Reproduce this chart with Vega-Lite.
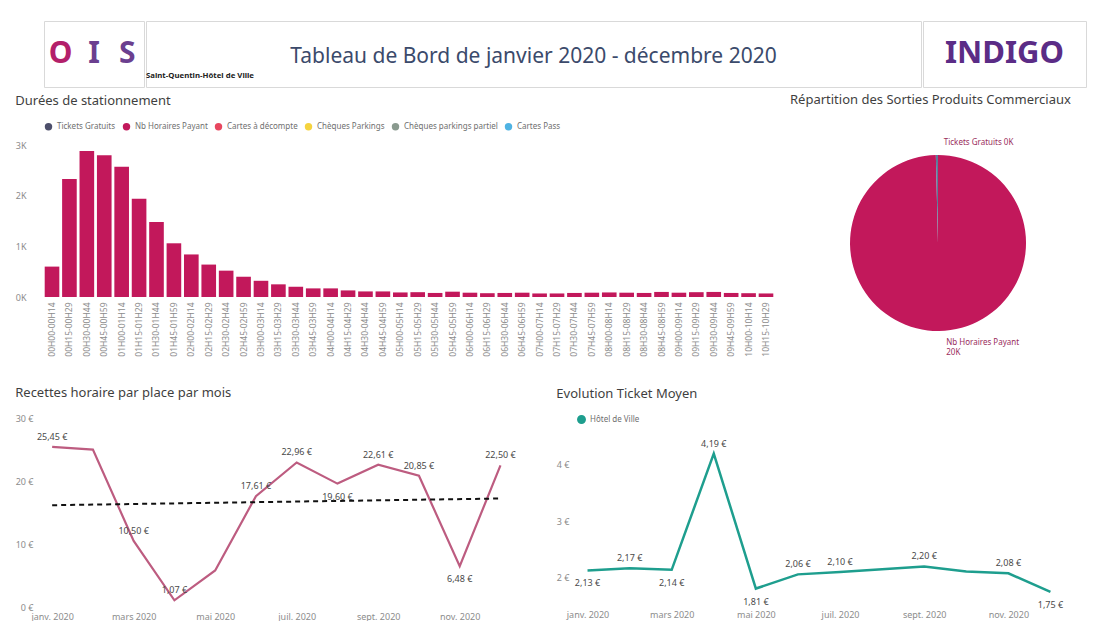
{
  "$schema": "https://vega.github.io/schema/vega-lite/v6.json",
  "background": "white",
  "padding": {"left": 15, "top": 20, "right": 4, "bottom": 0},
  "config": {
    "font": "Noto Sans",
    "view": {"stroke": null},
    "axis": {"labelColor": "#8c8c8c", "labelFontSize": 9, "domain": false, "ticks": false, "grid": false},
    "title": {"fontSize": 13, "fontWeight": "normal", "color": "#3f3f3f", "anchor": "start", "offset": 14},
    "legend": {"labelColor": "#6f6f6f", "labelFontSize": 8, "symbolType": "circle", "symbolSize": 55, "title": null},
    "locale": {"number": {"decimal": ",", "thousands": " ", "grouping": [3], "currency": ["", " €"]}}
  },
  "datasets": {
    "durees": [
      {"tranche": "00H00-00H14", "type": "Nb Horaires Payant", "n": 600},
      {"tranche": "00H15-00H29", "type": "Nb Horaires Payant", "n": 2330},
      {"tranche": "00H30-00H44", "type": "Nb Horaires Payant", "n": 2880},
      {"tranche": "00H45-00H59", "type": "Nb Horaires Payant", "n": 2800},
      {"tranche": "01H00-01H14", "type": "Nb Horaires Payant", "n": 2570},
      {"tranche": "01H15-01H29", "type": "Nb Horaires Payant", "n": 1940},
      {"tranche": "01H30-01H44", "type": "Nb Horaires Payant", "n": 1480},
      {"tranche": "01H45-01H59", "type": "Nb Horaires Payant", "n": 1060},
      {"tranche": "02H00-02H14", "type": "Nb Horaires Payant", "n": 840},
      {"tranche": "02H15-02H29", "type": "Nb Horaires Payant", "n": 640},
      {"tranche": "02H30-02H44", "type": "Nb Horaires Payant", "n": 520},
      {"tranche": "02H45-02H59", "type": "Nb Horaires Payant", "n": 400},
      {"tranche": "03H00-03H14", "type": "Nb Horaires Payant", "n": 320},
      {"tranche": "03H15-03H29", "type": "Nb Horaires Payant", "n": 250},
      {"tranche": "03H30-03H44", "type": "Nb Horaires Payant", "n": 200},
      {"tranche": "03H45-03H59", "type": "Nb Horaires Payant", "n": 170},
      {"tranche": "04H00-04H14", "type": "Nb Horaires Payant", "n": 170},
      {"tranche": "04H15-04H29", "type": "Nb Horaires Payant", "n": 130},
      {"tranche": "04H30-04H44", "type": "Nb Horaires Payant", "n": 110},
      {"tranche": "04H45-04H59", "type": "Nb Horaires Payant", "n": 110},
      {"tranche": "05H00-05H14", "type": "Nb Horaires Payant", "n": 90},
      {"tranche": "05H15-05H29", "type": "Nb Horaires Payant", "n": 95},
      {"tranche": "05H30-05H44", "type": "Nb Horaires Payant", "n": 80},
      {"tranche": "05H45-05H59", "type": "Nb Horaires Payant", "n": 105},
      {"tranche": "06H00-06H14", "type": "Nb Horaires Payant", "n": 85},
      {"tranche": "06H15-06H29", "type": "Nb Horaires Payant", "n": 75},
      {"tranche": "06H30-06H44", "type": "Nb Horaires Payant", "n": 80},
      {"tranche": "06H45-06H59", "type": "Nb Horaires Payant", "n": 85},
      {"tranche": "07H00-07H14", "type": "Nb Horaires Payant", "n": 70},
      {"tranche": "07H15-07H29", "type": "Nb Horaires Payant", "n": 70},
      {"tranche": "07H30-07H44", "type": "Nb Horaires Payant", "n": 80},
      {"tranche": "07H45-07H59", "type": "Nb Horaires Payant", "n": 85},
      {"tranche": "08H00-08H14", "type": "Nb Horaires Payant", "n": 90},
      {"tranche": "08H15-08H29", "type": "Nb Horaires Payant", "n": 85},
      {"tranche": "08H30-08H44", "type": "Nb Horaires Payant", "n": 80},
      {"tranche": "08H45-08H59", "type": "Nb Horaires Payant", "n": 100},
      {"tranche": "09H00-09H14", "type": "Nb Horaires Payant", "n": 85},
      {"tranche": "09H15-09H29", "type": "Nb Horaires Payant", "n": 95},
      {"tranche": "09H30-09H44", "type": "Nb Horaires Payant", "n": 100},
      {"tranche": "09H45-09H59", "type": "Nb Horaires Payant", "n": 80},
      {"tranche": "10H00-10H14", "type": "Nb Horaires Payant", "n": 75},
      {"tranche": "10H15-10H29", "type": "Nb Horaires Payant", "n": 70}
    ],
    "sorties": [
      {"type": "Nb Horaires Payant", "n": 20400},
      {"type": "Tickets Gratuits", "n": 80}
    ],
    "recettes": [
      {"m": 1, "mois": "janv.", "v": 25.45},
      {"m": 2, "mois": "févr.", "v": 25.0},
      {"m": 3, "mois": "mars", "v": 10.5},
      {"m": 4, "mois": "avr.", "v": 1.07},
      {"m": 5, "mois": "mai", "v": 5.8},
      {"m": 6, "mois": "juin", "v": 17.61},
      {"m": 7, "mois": "juil.", "v": 22.96},
      {"m": 8, "mois": "août", "v": 19.6},
      {"m": 9, "mois": "sept.", "v": 22.61},
      {"m": 10, "mois": "oct.", "v": 20.85},
      {"m": 11, "mois": "nov.", "v": 6.48},
      {"m": 12, "mois": "déc.", "v": 22.5}
    ],
    "ticket": [
      {"m": 1, "mois": "janv.", "site": "Hôtel de Ville", "v": 2.13},
      {"m": 2, "mois": "févr.", "site": "Hôtel de Ville", "v": 2.17},
      {"m": 3, "mois": "mars", "site": "Hôtel de Ville", "v": 2.14},
      {"m": 4, "mois": "avr.", "site": "Hôtel de Ville", "v": 4.19},
      {"m": 5, "mois": "mai", "site": "Hôtel de Ville", "v": 1.81},
      {"m": 6, "mois": "juin", "site": "Hôtel de Ville", "v": 2.06},
      {"m": 7, "mois": "juil.", "site": "Hôtel de Ville", "v": 2.1},
      {"m": 8, "mois": "août", "site": "Hôtel de Ville", "v": 2.15},
      {"m": 9, "mois": "sept.", "site": "Hôtel de Ville", "v": 2.2},
      {"m": 10, "mois": "oct.", "site": "Hôtel de Ville", "v": 2.11},
      {"m": 11, "mois": "nov.", "site": "Hôtel de Ville", "v": 2.08},
      {"m": 12, "mois": "déc.", "site": "Hôtel de Ville", "v": 1.75}
    ]
  },
  "spacing": 6,
  "resolve": {"scale": {"color": "independent"}, "legend": {"color": "independent"}},
  "vconcat": [
    {
      "spacing": 0,
      "resolve": {"scale": {"color": "independent"}, "legend": {"color": "independent"}},
      "hconcat": [
        {
          "width": 100, "height": 66,
          "view": {"stroke": "#d9d9d9"},
          "data": {"values": [{"c": "O"}, {"c": "I"}, {"c": "S"}]},
          "mark": {"type": "text", "fontSize": 30, "fontWeight": "bold"},
          "encoding": {
            "x": {"field": "c", "type": "nominal", "sort": null, "axis": null, "scale": {"type": "point", "padding": 0.5}},
            "text": {"field": "c"},
            "color": {"field": "c", "type": "nominal", "legend": null, "scale": {"domain": ["O", "I", "S"], "range": ["#B3206A", "#6B3F8F", "#6B3F8F"]}}
          }
        },
        {
          "width": 775, "height": 66,
          "view": {"stroke": "#d9d9d9"},
          "title": {"text": "Saint-Quentin-Hôtel de Ville", "orient": "bottom", "anchor": "start", "offset": -15, "fontSize": 7.8, "fontWeight": "bold", "color": "#222222"},
          "data": {"values": [{"t": "Tableau de Bord de janvier 2020 - décembre 2020"}]},
          "mark": {"type": "text", "fontSize": 21, "color": "#3b4a6b", "dy": 3},
          "encoding": {"text": {"field": "t"}}
        },
        {
          "width": 163, "height": 66,
          "view": {"stroke": "#d9d9d9"},
          "data": {"values": [{"t": "INDIGO"}]},
          "mark": {"type": "text", "fontSize": 31, "fontWeight": "bold", "color": "#5B2C86"},
          "encoding": {"text": {"field": "t"}}
        }
      ]
    },
    {
      "spacing": 30,
      "resolve": {"scale": {"color": "independent"}, "legend": {"color": "independent"}},
      "vconcat": [
        {
          "spacing": 16,
          "resolve": {"scale": {"color": "independent"}, "legend": {"color": "independent"}},
          "hconcat": [
            {
              "width": 730, "height": 152,
              "title": "Durées de stationnement",
              "data": {"name": "durees"},
              "mark": {"type": "bar"},
              "encoding": {
                "x": {"field": "tranche", "type": "nominal", "sort": null, "scale": {"paddingInner": 0.16, "paddingOuter": 0.04}, "axis": {"title": null, "labelAngle": -90, "labelFontSize": 8.5, "labelPadding": 5}},
                "y": {"field": "n", "type": "quantitative", "scale": {"domain": [0, 3000], "nice": false}, "axis": {"title": null, "values": [0, 1000, 2000, 3000], "labelExpr": "datum.value / 1000 + 'K'", "labelPadding": 18}},
                "color": {"field": "type", "type": "nominal",
                  "scale": {"domain": ["Tickets Gratuits", "Nb Horaires Payant", "Cartes à décompte", "Chèques Parkings", "Chèques parkings partiel", "Cartes Pass"],
                            "range": ["#4D4F6B", "#C2185B", "#E8475F", "#F5D33F", "#8A9A8F", "#4FB3E3"]},
                  "legend": {"orient": "top", "direction": "horizontal", "columnPadding": 6, "offset": 14}}
              }
            },
            {
              "width": 296, "height": 196,
              "title": {"text": "Répartition des Sorties Produits Commerciaux", "offset": 32},
              "data": {"name": "sorties"},
              "encoding": {
                "theta": {"field": "n", "type": "quantitative", "stack": true},
                "order": {"field": "n", "type": "quantitative", "sort": "descending"},
                "color": {"field": "type", "type": "nominal", "legend": null, "scale": {"domain": ["Nb Horaires Payant", "Tickets Gratuits"], "range": ["#C2185B", "#5C7A9A"]}}
              },
              "layer": [
                {"mark": {"type": "arc", "outerRadius": 88}},
                {
                  "transform": [{"calculate": "datum.n >= 1000 ? [datum.type, format(datum.n / 1000, '.0f') + 'K'] : datum.type + ' ' + format(datum.n / 1000, '.0f') + 'K'", "as": "lbl"}],
                  "mark": {"type": "text", "radius": 100, "align": "left", "dx": 7, "fontSize": 8, "lineHeight": 10},
                  "encoding": {"text": {"field": "lbl"}, "color": {"value": "#9A2D5C"}}
                }
              ]
            }
          ]
        },
        {
          "spacing": 27,
          "resolve": {"scale": {"color": "independent"}, "legend": {"color": "independent"}},
          "hconcat": [
            {
              "width": 485, "height": 192,
              "title": "Recettes horaire par place par mois",
              "data": {"name": "recettes"},
              "encoding": {
                "x": {"field": "m", "type": "quantitative", "scale": {"domain": [0.8, 12.7], "nice": false, "zero": false},
                  "axis": {"title": null, "values": [1, 3, 5, 7, 9, 11], "labelPadding": 5,
                    "labelExpr": "['janv. 2020','févr. 2020','mars 2020','avr. 2020','mai 2020','juin 2020','juil. 2020','août 2020','sept. 2020','oct. 2020','nov. 2020','déc. 2020'][datum.value - 1]"}},
                "y": {"field": "v", "type": "quantitative", "scale": {"domain": [0, 30.5], "nice": false},
                  "axis": {"title": null, "values": [0, 10, 20, 30], "labelExpr": "datum.value + ' €'", "labelPadding": 11}}
              },
              "layer": [
                {"mark": {"type": "line", "color": "#BD5C80", "strokeWidth": 2.2}},
                {"transform": [{"regression": "v", "on": "m"}], "mark": {"type": "line", "color": "#111111", "strokeDash": [5, 4], "strokeWidth": 2}},
                {"transform": [{"filter": "indexof([1,3,4,6,7,9,10,12], datum.m) >= 0"}],
                 "mark": {"type": "text", "dy": -10, "fontSize": 9, "color": "#4a4a4a"},
                 "encoding": {"text": {"field": "v", "type": "quantitative", "format": "$.2f"}}},
                {"transform": [{"filter": "datum.m == 8 || datum.m == 11"}],
                 "mark": {"type": "text", "dy": 13, "fontSize": 9, "color": "#4a4a4a"},
                 "encoding": {"text": {"field": "v", "type": "quantitative", "format": "$.2f"}}}
              ]
            },
            {
              "width": 505, "height": 190,
              "title": "Evolution Ticket Moyen",
              "data": {"name": "ticket"},
              "encoding": {
                "x": {"field": "m", "type": "quantitative", "scale": {"domain": [0.75, 12.75], "nice": false, "zero": false},
                  "axis": {"title": null, "values": [1, 3, 5, 7, 9, 11], "labelPadding": 5,
                    "labelExpr": "['janv. 2020','févr. 2020','mars 2020','avr. 2020','mai 2020','juin 2020','juil. 2020','août 2020','sept. 2020','oct. 2020','nov. 2020','déc. 2020'][datum.value - 1]"}},
                "y": {"field": "v", "type": "quantitative", "scale": {"domain": [1.52, 4.87], "nice": false, "zero": false},
                  "axis": {"title": null, "values": [2, 3, 4], "labelExpr": "datum.value + ' €'", "labelPadding": 8}}
              },
              "layer": [
                {"mark": {"type": "line", "strokeWidth": 2.5},
                 "encoding": {"color": {"field": "site", "type": "nominal", "scale": {"range": ["#1E9E8E"]}, "legend": {"orient": "top-left", "direction": "horizontal", "offset": 0, "symbolFillColor": "#1E9E8E", "symbolStrokeColor": "#1E9E8E"}}}},
                {"transform": [{"filter": "indexof([2,4,6,7,9,11], datum.m) >= 0"}],
                 "mark": {"type": "text", "dy": -10, "fontSize": 9, "color": "#4a4a4a"},
                 "encoding": {"text": {"field": "v", "type": "quantitative", "format": "$.2f"}}},
                {"transform": [{"filter": "indexof([1,3,5,12], datum.m) >= 0"}],
                 "mark": {"type": "text", "dy": 13, "fontSize": 9, "color": "#4a4a4a"},
                 "encoding": {"text": {"field": "v", "type": "quantitative", "format": "$.2f"}}}
              ]
            }
          ]
        }
      ]
    }
  ]
}
